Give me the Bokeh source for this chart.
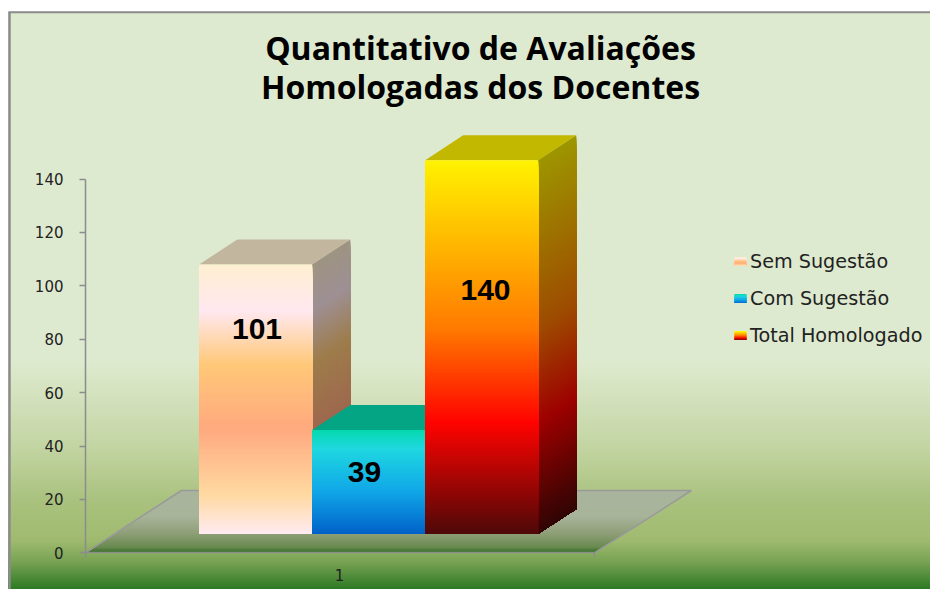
from bokeh.plotting import figure
from bokeh.models import Range1d, FixedTicker
from bokeh.core.properties import value
from bokeh.embed import file_html
from bokeh.resources import INLINE
import numpy as np

# ---- data ----
title_lines = ["Quantitativo de Avaliações", "Homologadas dos Docentes"]
categories = ["1"]
series_names = ["Sem Sugestão", "Com Sugestão", "Total Homologado"]
series_values = [101, 39, 140]
y_ticks = [0, 20, 40, 60, 80, 100, 120, 140]

# ---- styles ----
grad_sem = [(0, "#FFEFD1"), (.17, "#FFE8F0"), (.37, "#FFC878"), (.61, "#FFA97F"), (.85, "#FFD9A0"), (1, "#FFEBF2")]
grad_com = [(0, "#05D9AE"), (.17, "#1FD8E0"), (.58, "#10A8E8"), (1, "#0060C8")]
grad_tot = [(0, "#FFF200"), (.45, "#FF7A00"), (.70, "#FF0300"), (1, "#4D0808")]
grads = [grad_sem, grad_com, grad_tot]
grad_bg = [(12, "#DEEAD0"), (360, "#DEEACF"), (445, "#C3D5A3"), (500, "#A9C17D"), (538, "#A0BB70"),
           (560, "#79A354"), (590, "#267520"), (597, "#1F7019")]
grad_floor = [(490, "#A8B59C"), (515, "#A8B49A"), (532, "#8F9F78"), (546, "#6A8A50"), (552, "#2F6C20")]

SCALE = 2.67      # pixels per value unit
Y0 = 552.3        # pixel row of value 0
LIFT = 7          # front bars rest on the floor, above the axis zero
DX, DY = 38, 25   # 3D depth
W, H = 930, 589


def Y(px):
    return (Y0 - px) / SCALE


def hex2rgb(c):
    return np.array([int(c[i:i + 2], 16) for i in (1, 3, 5)], float)


def rgb2hex(a):
    return "#%02x%02x%02x" % tuple(int(round(max(0, min(255, v)))) for v in a)


def grad_color(stops, t, k=1.0):
    pos = [s[0] for s in stops]
    cols = np.array([hex2rgb(s[1]) for s in stops])
    return rgb2hex([np.interp(t, pos, cols[:, i]) * k for i in range(3)])


p = figure(width=W, height=H, output_backend="svg", toolbar_location=None, min_border=0,
           x_range=Range1d(0, W), y_range=Range1d(Y(H), Y(0)), tools="")
p.outline_line_color = None
p.grid.visible = False
p.background_fill_color = "#ffffff"
p.border_fill_color = "#ffffff"

# background gradient (each strip overpaints the remainder, avoiding seams)
rows = np.arange(11, H, 2.0)
p.quad(left=8, right=W, top=[Y(r) for r in rows], bottom=Y(H),
       fill_color=[grad_color(grad_bg, r) for r in rows], line_color=None)
p.line([9, 9], [Y(H), Y(11.5)], line_color="#8c8c8c", line_width=2.5)
p.line([8, W], [Y(11.8)] * 2, line_color="#8c8c8c", line_width=2)

# floor
fl_rows = np.arange(490, 553, 1.0)
fl_x = lambda y, x0, dx: x0 + (Y0 - y) * dx / 63
fxs, fys, fcs = [], [], []
for r in fl_rows:
    fxs.append([fl_x(r, 85, 96), fl_x(r, 594, 97), 594, 85])
    fys.append([Y(r), Y(r), Y(Y0), Y(Y0)])
    fcs.append(grad_color(grad_floor, r))
p.patches(fxs, fys, fill_color=fcs, line_color=None)
p.line([85, 181, 691, 594], [Y(Y0), Y(490), Y(490), Y(Y0)], line_color="#9a9a9a", line_width=1.5)

# 3D bars
bar_w = 113
for i, (val, grad) in enumerate(zip(series_values, grads)):
    x0 = 198.7 + i * bar_w
    x1 = x0 + bar_w
    vtop = val + LIFT
    ptop = Y0 - vtop * SCALE
    pbot = Y0 - LIFT * SCALE
    ts = np.linspace(0, 1, int(pbot - ptop) + 1)[:-1]
    # side face
    xs, ys, cs = [], [], []
    for t in ts:
        py = ptop + t * (pbot - ptop)
        xs.append([x1 - .5, x1 + DX, x1 + DX, x1 - .5])
        ys.append([Y(py), Y(py - DY), Y(pbot - DY), Y(pbot)])
        cs.append(grad_color(grad, t, .62))
    p.patches(xs, ys, fill_color=cs, line_color=None)
    # top face
    p.patch([x0, x1, x1 + DX, x0 + DX], [Y(ptop), Y(ptop), Y(ptop - DY), Y(ptop - DY)],
            fill_color=grad_color(grad, 0, .76), line_color=None)
    # front face
    p.quad(left=x0, right=x1, top=[vtop - t * val for t in ts], bottom=LIFT,
           fill_color=[grad_color(grad, t) for t in ts], line_color=None)

# value labels
label_x = [256.5, 364, 485]
label_y = [328, 471, 289]
p.text(x=label_x, y=[Y(v) for v in label_y], text=[str(v) for v in series_values],
       text_font=value("Liberation Sans"), text_font_style="bold", text_font_size="30px",
       text_color="#000000", text_align="center", text_baseline="middle")

# title
p.text(x=[480, 480], y=[Y(47), Y(86)], text=title_lines, text_font=value("Open Sans"),
       text_font_style="bold", text_font_size="32px", text_color="#000000",
       text_align="center", text_baseline="middle")

# legend
leg_y = [261, 298, 335]
for name, grad, ly in zip(series_names, grads, leg_y):
    ts = np.linspace(0, 1, 9)[:-1]
    p.quad(left=734, right=746, top=[Y(ly - 4.5 + t * 9) for t in ts], bottom=Y(ly + 4.5),
           fill_color=[grad_color(grad, t) for t in ts], line_color=None)
    p.text(x=[749.5], y=[Y(ly - .5)], text=[name], text_font=value("DejaVu Sans"), text_font_size="19.2px",
           text_color="#222222", text_align="left", text_baseline="middle")

# axes
ax = p.yaxis[0]
ax.fixed_location = 85
ax.bounds = (0, 140)
ax.ticker = FixedTicker(ticks=y_ticks)
ax.axis_line_color = "#8c8c8c"
ax.axis_line_width = 1.5
ax.major_tick_line_color = "#8c8c8c"
ax.major_tick_line_width = 1.5
ax.major_tick_in = 0
ax.major_tick_out = 6
ax.minor_tick_line_color = None
ax.major_label_text_font = "DejaVu Sans"
ax.major_label_text_font_size = "15px"
ax.major_label_text_color = "#222222"
ax.major_label_standoff = 16

bx = p.xaxis[0]
bx.fixed_location = 0
bx.bounds = (85, 594)
bx.ticker = FixedTicker(ticks=[339], minor_ticks=[85, 594])
bx.major_label_overrides = {339: categories[0]}
bx.axis_line_color = "#8c8c8c"
bx.axis_line_width = 1.5
bx.major_tick_line_color = None
bx.major_tick_in = 0
bx.major_tick_out = 0
bx.minor_tick_line_color = "#8c8c8c"
bx.minor_tick_line_width = 1.5
bx.minor_tick_in = 0
bx.minor_tick_out = 5
bx.major_label_text_font = "DejaVu Sans"
bx.major_label_text_font_size = "15px"
bx.major_label_text_color = "#222222"
bx.major_label_standoff = 11

open("out.html", "w").write(file_html(p, INLINE))
